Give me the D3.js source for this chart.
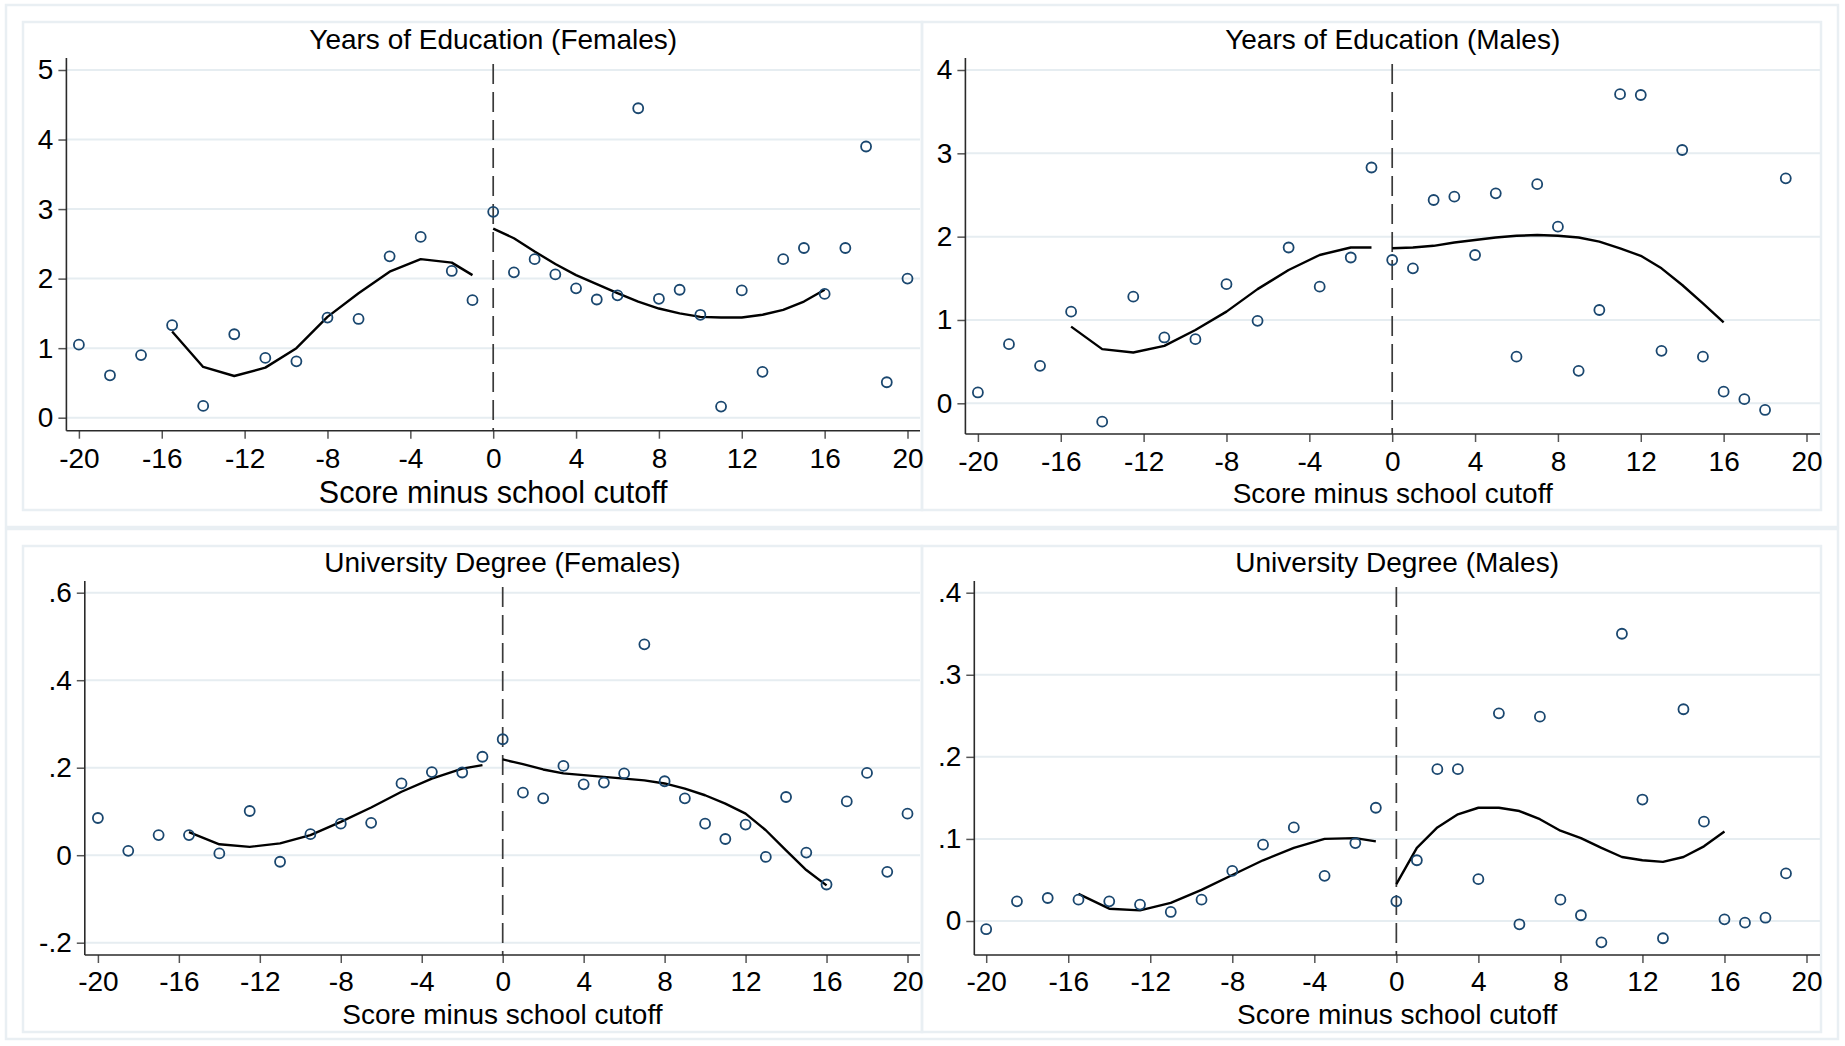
<!DOCTYPE html>
<html lang="en">

<head>
  <meta charset="UTF-8">
  <title>RD plots</title>
  <style>
    body { margin: 0; background: #fff; }
    text { font-family: "Liberation Sans", Arial, sans-serif; fill: #000; }
  </style>
</head>

<body>
  <svg width="1845" height="1046"></svg>
  <script src="https://cdn.jsdelivr.net/npm/d3@7"></script>
  <script>
    // bins of the score (left side in steps of 1.5, right side in steps of 1)
    var xBins = [-20, -18.5, -17, -15.5, -14, -12.5, -11, -9.5, -8, -6.5, -5, -3.5, -2, -1,
      0, 1, 2, 3, 4, 5, 6, 7, 8, 9, 10, 11, 12, 13, 14, 15, 16, 17, 18, 19, 20];
    var fitXLeft = [-15.5, -14, -12.5, -11, -9.5, -8, -6.5, -5, -3.5, -2, -1];
    var fitXRight = [0, 1, 2, 3, 4, 5, 6, 7, 8, 9, 10, 11, 12, 13, 14, 15, 16];
    var xTicks = [-20, -16, -12, -8, -4, 0, 4, 8, 12, 16, 20];

    // Years of Education (Females)
    var eduFemDots = [1.05, 0.61, 0.90, 1.33, 0.17, 1.20, 0.86, 0.81, 1.44, 1.42, 2.32, 2.60, 2.11, 1.69,
      2.96, 2.09, 2.28, 2.06, 1.86, 1.70, 1.76, 4.45, 1.71, 1.84, 1.48, 0.16, 1.83, 0.66, 2.28, 2.44, 1.78, 2.44, 3.90, 0.51, 2.00];
    var eduFemFitL = [1.24, 0.73, 0.60, 0.72, 1.00, 1.45, 1.79, 2.10, 2.28, 2.23, 2.05];
    var eduFemFitR = [2.72, 2.58, 2.39, 2.21, 2.05, 1.92, 1.79, 1.67, 1.57, 1.50, 1.45, 1.44, 1.44, 1.48, 1.55, 1.67, 1.84];

    // Years of Education (Males)
    var eduMalDots = [0.13, 0.71, 0.45, 1.10, -0.22, 1.28, 0.79, 0.77, 1.43, 0.99, 1.87, 1.40, 1.75, 2.83,
      1.72, 1.62, 2.44, 2.48, 1.78, 2.52, 0.56, 2.63, 2.12, 0.39, 1.12, 3.71, 3.70, 0.63, 3.04, 0.56, 0.14, 0.05, -0.08, 2.70, null];
    var eduMalFitL = [0.92, 0.65, 0.61, 0.69, 0.88, 1.10, 1.37, 1.60, 1.78, 1.87, 1.87];
    var eduMalFitR = [1.86, 1.87, 1.89, 1.93, 1.96, 1.99, 2.01, 2.02, 2.01, 1.99, 1.94, 1.86, 1.77, 1.62, 1.42, 1.20, 0.97];

    // University Degree (Females)
    var uniFemDots = [0.085, 0.010, 0.046, 0.046, 0.004, 0.101, -0.015, 0.048, 0.072, 0.074, 0.164, 0.190, 0.189, 0.225,
      0.265, 0.143, 0.130, 0.204, 0.162, 0.166, 0.187, 0.482, 0.169, 0.130, 0.072, 0.037, 0.070, -0.004, 0.133, 0.006, -0.067, 0.123, 0.188, -0.038, 0.095];
    var uniFemFitL = [0.053, 0.025, 0.019, 0.027, 0.046, 0.076, 0.109, 0.145, 0.175, 0.198, 0.206];
    var uniFemFitR = [0.219, 0.208, 0.196, 0.187, 0.183, 0.179, 0.175, 0.171, 0.164, 0.152, 0.137, 0.118, 0.095, 0.057, 0.011, -0.034, -0.069];

    // University Degree (Males)
    var uniMalDots = [-0.010, 0.024, 0.028, 0.026, 0.024, 0.020, 0.011, 0.026, 0.061, 0.093, 0.114, 0.055, 0.095, 0.138,
      0.024, 0.074, 0.185, 0.185, 0.051, 0.253, -0.004, 0.249, 0.026, 0.007, -0.026, 0.350, 0.148, -0.021, 0.258, 0.121, 0.002, -0.002, 0.004, 0.058, null];
    var uniMalFitL = [0.033, 0.015, 0.013, 0.022, 0.038, 0.056, 0.074, 0.089, 0.100, 0.101, 0.097];
    var uniMalFitR = [0.045, 0.089, 0.114, 0.130, 0.138, 0.138, 0.134, 0.124, 0.110, 0.101, 0.089, 0.078, 0.074, 0.072, 0.078, 0.091, 0.109];

    var panels = [{
        title: "Years of Education (Females)",
        dots: eduFemDots, fitL: eduFemFitL, fitR: eduFemFitR,
        yTicks: [0, 1, 2, 3, 4, 5], yDomain: [0, 5], yRange: [417.7, 70],
        xRange: [78.9, 907.5], axisX: 66.4, axisTop: 58, axisY: 430.7, right: 920,
        titleY: 49, tickPad: 9, xTitleY: 503, xTitleSize: 30.5
      },
      {
        title: "Years of Education (Males)",
        dots: eduMalDots, fitL: eduMalFitL, fitR: eduMalFitR,
        yTicks: [0, 1, 2, 3, 4], yDomain: [0, 4], yRange: [403.3, 70],
        xRange: [977.9, 1806.5], axisX: 965.4, axisTop: 58, axisY: 434, right: 1820,
        titleY: 49, tickPad: 9, xTitleY: 503, xTitleSize: 28
      },
      {
        title: "University Degree (Females)",
        dots: uniFemDots, fitL: uniFemFitL, fitR: uniFemFitR,
        yTicks: [-0.2, 0, 0.2, 0.4, 0.6], yDomain: [-0.2, 0.6], yRange: [942.7, 592.7],
        xRange: [97.9, 907.5], axisX: 84.8, axisTop: 581, axisY: 955, right: 920,
        titleY: 572, tickPad: 8, xTitleY: 1024, xTitleSize: 28
      },
      {
        title: "University Degree (Males)",
        dots: uniMalDots, fitL: uniMalFitL, fitR: uniMalFitR,
        yTicks: [0, 0.1, 0.2, 0.3, 0.4], yDomain: [0, 0.4], yRange: [921, 592.7],
        xRange: [986.2, 1806.5], axisX: 974.3, axisTop: 581, axisY: 955, right: 1820,
        titleY: 572, tickPad: 8, xTitleY: 1024, xTitleSize: 28
      }
    ];

    var svg = d3.select("svg");
    var frame = "#e9eff3";
    var dotColor = "#1a476f";

    // Stata style tick labels: .2, -.2, 0
    var fmt = function (d) {
      if (d === 0) return "0";
      return String(+d.toFixed(2)).replace("0.", ".");
    };

    // light frames of the combined graph
    svg.append("rect").attr("width", 1845).attr("height", 1046).attr("fill", "#fff");
    [[6, 5, 1832, 522], [6, 529, 1832, 510]].forEach(function (r) {
      svg.append("rect").attr("x", r[0]).attr("y", r[1]).attr("width", r[2]).attr("height", r[3])
        .attr("fill", "none").attr("stroke", frame).attr("stroke-width", 2.5);
    });
    [[23, 22, 899, 488], [922, 22, 899, 488], [23, 546, 899, 486], [922, 546, 899, 486]].forEach(function (r) {
      svg.append("rect").attr("x", r[0]).attr("y", r[1]).attr("width", r[2]).attr("height", r[3])
        .attr("fill", "none").attr("stroke", frame).attr("stroke-width", 2.5);
    });

    panels.forEach(function (p) {
      var g = svg.append("g");
      var x = d3.scaleLinear().domain([-20, 20]).range(p.xRange);
      var y = d3.scaleLinear().domain(p.yDomain).range(p.yRange);

      // gridlines
      g.append("g").selectAll("line").data(p.yTicks).enter().append("line")
        .attr("x1", p.axisX).attr("x2", p.right)
        .attr("y1", y).attr("y2", y)
        .attr("stroke", "#e6edf1").attr("stroke-width", 2);

      // cutoff
      g.append("line")
        .attr("x1", x(0)).attr("x2", x(0))
        .attr("y1", p.axisTop + 6).attr("y2", p.axisY)
        .attr("stroke", "#3a3a3a").attr("stroke-width", 1.7)
        .attr("stroke-dasharray", "20,8");

      // axes
      var xAxis = d3.axisBottom(x).tickValues(xTicks).tickSize(8).tickSizeOuter(0).tickPadding(p.tickPad).tickFormat(fmt);
      var yAxis = d3.axisLeft(y).tickValues(p.yTicks).tickSize(8).tickSizeOuter(0).tickPadding(5).tickFormat(fmt);

      var gx = g.append("g").attr("transform", "translate(0," + p.axisY + ")").call(xAxis);
      var gy = g.append("g").attr("transform", "translate(" + p.axisX + ",0)").call(yAxis);
      [gx, gy].forEach(function (a) {
        a.select(".domain").remove();
        a.selectAll(".tick line").attr("stroke", "#555").attr("stroke-width", 1.5);
        a.selectAll(".tick text").attr("font-size", 28).attr("fill", "#000")
          .style("font-family", "'Liberation Sans', Arial, sans-serif");
      });

      g.append("line").attr("x1", p.axisX).attr("x2", p.axisX)
        .attr("y1", p.axisTop).attr("y2", p.axisY)
        .attr("stroke", "#2a2a2a").attr("stroke-width", 1.6);
      g.append("line").attr("x1", p.axisX).attr("x2", p.right)
        .attr("y1", p.axisY).attr("y2", p.axisY)
        .attr("stroke", "#2a2a2a").attr("stroke-width", 1.6);

      // fitted polynomial on each side
      var line = d3.line().x(function (d) { return x(d[0]); }).y(function (d) { return y(d[1]); });
      [d3.zip(fitXLeft, p.fitL), d3.zip(fitXRight, p.fitR)].forEach(function (seg) {
        g.append("path").datum(seg).attr("d", line)
          .attr("fill", "none").attr("stroke", "#000").attr("stroke-width", 2.4)
          .attr("stroke-linejoin", "round");
      });

      // binned means
      var pts = d3.zip(xBins, p.dots).filter(function (d) { return d[1] !== null; });
      g.append("g").selectAll("circle").data(pts).enter().append("circle")
        .attr("cx", function (d) { return x(d[0]); })
        .attr("cy", function (d) { return y(d[1]); })
        .attr("r", 5)
        .attr("fill", "none").attr("stroke", dotColor).attr("stroke-width", 1.8);

      // titles
      var cx = (p.axisX + p.right) / 2;
      g.append("text").attr("x", cx).attr("y", p.titleY)
        .attr("text-anchor", "middle").attr("font-size", 28).text(p.title);
      g.append("text").attr("x", cx).attr("y", p.xTitleY)
        .attr("text-anchor", "middle").attr("font-size", p.xTitleSize).text("Score minus school cutoff");
    });
  </script>
</body>

</html>
